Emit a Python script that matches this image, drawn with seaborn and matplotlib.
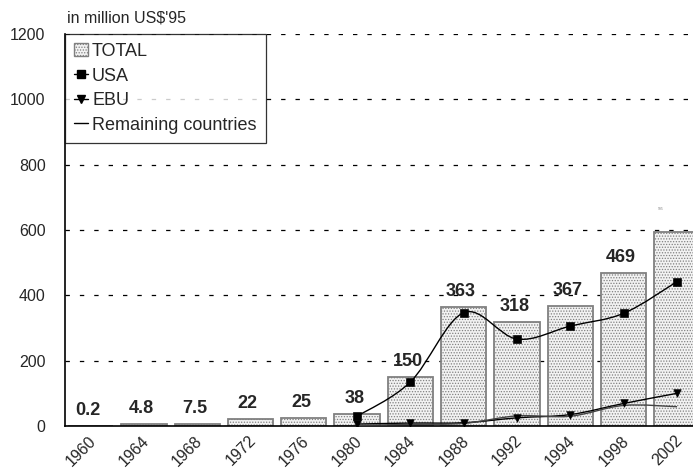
import numpy as np
import pandas as pd
import matplotlib
matplotlib.use("Agg")
import matplotlib.pyplot as plt
import matplotlib.transforms as mtransforms
from matplotlib.path import Path
from matplotlib.patches import PathPatch, Patch
from matplotlib.lines import Line2D
import seaborn as sns

years = ["1960", "1964", "1968", "1972", "1976", "1980", "1984", "1988",
         "1992", "1994", "1998", "2002"]
total = [0.2, 4.8, 7.5, 22, 25, 38, 150, 363, 318, 367, 469, 595]
total_labels = ["0.2", "4.8", "7.5", "22", "25", "38", "150", "363", "318",
                "367", "469", "595"]
# country series start in 1980
sub_years = ["1980", "1984", "1988", "1992", "1994", "1998", "2002"]
usa = [30, 135, 347, 266, 306, 345, 442]
ebu = [6, 9, 10, 25, 35, 69, 100]
rest = [2, 5, 8, 31, 30, 63, 59]

sns.set_style("white")
plt.rcParams["font.family"] = ["Liberation Sans", "DejaVu Sans"]
plt.rcParams["hatch.linewidth"] = 0.6

fig = plt.figure(figsize=(6.93, 4.72), dpi=100)
ax = fig.add_axes([65 / 693, 1 - 426 / 472, 1 - 65 / 693, (426 - 34) / 472])

df = pd.DataFrame({"year": years, "total": total})
sns.barplot(data=df, x="year", y="total", ax=ax, color="#f2f2f2",
            edgecolor="#808080", linewidth=1.3, width=0.85, zorder=2)
for bar in ax.patches:
    bar.set_hatch("......")

# value labels
for i, (v, lab) in enumerate(zip(total, total_labels)):
    if i == len(total) - 1:
        ax.annotate(lab, (i, v), xytext=(-12, 15), textcoords="offset points",
                    ha="center", va="bottom", fontsize=2.5, color="#888888")
    else:
        ax.annotate(lab, (i, v), xytext=(-2, 5), textcoords="offset points",
                    ha="center", va="bottom", fontsize=13, fontweight="bold")


def smooth_path(xs, ys):
    pts = np.column_stack([xs, ys]).astype(float)
    verts = [pts[0]]
    codes = [Path.MOVETO]
    n = len(pts)
    for k in range(n - 1):
        p0 = pts[max(k - 1, 0)]
        p1 = pts[k]
        p2 = pts[k + 1]
        p3 = pts[min(k + 2, n - 1)]
        c1 = p1 + (p2 - p0) / 6
        c2 = p2 - (p3 - p1) / 6
        verts += [c1, c2, p2]
        codes += [Path.CURVE4] * 3
    return Path(verts, codes)


xpos = [years.index(y) for y in sub_years]
for vals, col in [(usa, "black"), (ebu, "black"), (rest, "#444444")]:
    ax.add_patch(PathPatch(smooth_path(xpos, vals), facecolor="none",
                           edgecolor=col, linewidth=1.0, zorder=3))

sns.scatterplot(x=xpos, y=usa, marker="s", color="black", s=32, ax=ax,
                zorder=4, edgecolor="black")
sns.scatterplot(x=xpos, y=ebu, marker="v", color="black", s=30, ax=ax,
                zorder=4, edgecolor="black")

ax.set_xlim(-0.48, 11.3)
ax.set_ylim(0, 1200)
ax.set_yticks(range(0, 1201, 200))
ax.yaxis.grid(True, linestyle=(0, (3.5, 8)), color="black", linewidth=0.9)
ax.set_axisbelow(True)
ax.set_xlabel("")
ax.set_ylabel("")
ax.tick_params(axis="y", labelsize=11.5, length=0, pad=14)
ax.tick_params(axis="x", labelsize=11.5, length=0, pad=5)
offset = mtransforms.ScaledTranslation(8 / 100, 0, fig.dpi_scale_trans)
for lab in ax.get_xticklabels():
    lab.set_rotation(45)
    lab.set_ha("right")
    lab.set_transform(lab.get_transform() + offset)
for s in ["top", "right"]:
    ax.spines[s].set_visible(False)
for s in ["left", "bottom"]:
    ax.spines[s].set_color("black")
    ax.spines[s].set_linewidth(1.2)

fig.text(67 / 693, 1 - 18 / 472, "in million US$'95", fontsize=11.5,
         ha="left", va="center")

handles = [
    Patch(facecolor="#f2f2f2", edgecolor="#808080", hatch="......"),
    Line2D([], [], color="black", marker="s", markersize=6, linewidth=1),
    Line2D([], [], color="black", marker="v", markersize=6, linewidth=1),
    Line2D([], [], color="black", linewidth=1),
]
leg = ax.legend(handles, ["TOTAL", "USA", "EBU", "Remaining countries"],
                loc="upper left", bbox_to_anchor=(0, 1), borderaxespad=0,
                fontsize=13, frameon=True, fancybox=False, handlelength=0.8,
                handletextpad=0.2, labelspacing=0.42, borderpad=0.5)
leg.get_frame().set_edgecolor("black")
leg.get_frame().set_linewidth(0.9)

fig.savefig("out.png", dpi=100)
